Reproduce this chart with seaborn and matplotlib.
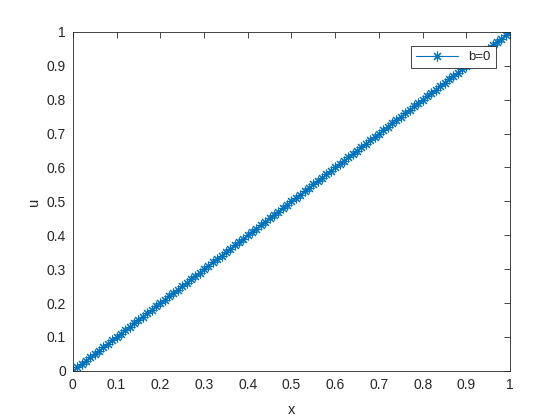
import matplotlib
matplotlib.use("Agg")
import matplotlib.pyplot as plt
import pandas as pd
import seaborn as sns

# данные
x_vals = [0.00, 0.01, 0.02, 0.03, 0.04, 0.05, 0.06, 0.07, 0.08, 0.09,
          0.10, 0.11, 0.12, 0.13, 0.14, 0.15, 0.16, 0.17, 0.18, 0.19,
          0.20, 0.21, 0.22, 0.23, 0.24, 0.25, 0.26, 0.27, 0.28, 0.29,
          0.30, 0.31, 0.32, 0.33, 0.34, 0.35, 0.36, 0.37, 0.38, 0.39,
          0.40, 0.41, 0.42, 0.43, 0.44, 0.45, 0.46, 0.47, 0.48, 0.49,
          0.50, 0.51, 0.52, 0.53, 0.54, 0.55, 0.56, 0.57, 0.58, 0.59,
          0.60, 0.61, 0.62, 0.63, 0.64, 0.65, 0.66, 0.67, 0.68, 0.69,
          0.70, 0.71, 0.72, 0.73, 0.74, 0.75, 0.76, 0.77, 0.78, 0.79,
          0.80, 0.81, 0.82, 0.83, 0.84, 0.85, 0.86, 0.87, 0.88, 0.89,
          0.90, 0.91, 0.92, 0.93, 0.94, 0.95, 0.96, 0.97, 0.98, 0.99,
          1.00]
u_vals = [0.000, 0.010, 0.020, 0.030, 0.040, 0.050, 0.060, 0.070, 0.080, 0.090,
          0.100, 0.110, 0.120, 0.130, 0.140, 0.150, 0.160, 0.170, 0.180, 0.190,
          0.200, 0.210, 0.220, 0.230, 0.240, 0.250, 0.260, 0.270, 0.280, 0.290,
          0.300, 0.310, 0.320, 0.330, 0.340, 0.350, 0.360, 0.370, 0.380, 0.390,
          0.400, 0.410, 0.420, 0.430, 0.440, 0.450, 0.460, 0.470, 0.480, 0.490,
          0.500, 0.510, 0.520, 0.530, 0.540, 0.550, 0.560, 0.570, 0.580, 0.590,
          0.600, 0.610, 0.620, 0.630, 0.640, 0.650, 0.660, 0.670, 0.680, 0.690,
          0.700, 0.710, 0.720, 0.730, 0.740, 0.750, 0.760, 0.770, 0.780, 0.790,
          0.800, 0.810, 0.820, 0.830, 0.840, 0.850, 0.860, 0.870, 0.880, 0.890,
          0.900, 0.910, 0.920, 0.930, 0.940, 0.950, 0.960, 0.970, 0.980, 0.990,
          1.000]
series_label = "b=0"
tick_vals = [0, 0.1, 0.2, 0.3, 0.4, 0.5, 0.6, 0.7, 0.8, 0.9, 1]
tick_labels = ["0", "0.1", "0.2", "0.3", "0.4", "0.5", "0.6", "0.7", "0.8", "0.9", "1"]

sns.set_style("white")
plt.rcParams['font.family'] = ['Liberation Sans', 'DejaVu Sans']

axis_color = "#262626"
line_color = "#0072BD"

df = pd.DataFrame({"x": x_vals, "u": u_vals})

fig = plt.figure(figsize=(5.6, 4.2), dpi=100)
ax = fig.add_axes([0.13, 0.117, 0.781, 0.807])

sns.lineplot(data=df, x="x", y="u", ax=ax, color=line_color, linewidth=0.8,
             marker=(8, 2, 0), markersize=7, markeredgewidth=0.8,
             markeredgecolor=line_color, label=series_label)

ax.set_xlim(0, 1)
ax.set_ylim(0, 1)
ax.set_xticks(tick_vals)
ax.set_xticklabels(tick_labels)
ax.set_yticks(tick_vals)
ax.set_yticklabels(tick_labels)
ax.set_xlabel("x", fontsize=10.5, color=axis_color, labelpad=8)
ax.set_ylabel("u", fontsize=10.5, color=axis_color, labelpad=4)

ax.tick_params(direction="in", length=4, width=0.6, colors=axis_color,
               labelsize=10, top=True, right=True, pad=5)
for s in ax.spines.values():
    s.set_color(axis_color)
    s.set_linewidth(0.6)
ax.grid(False)

leg = ax.legend(loc="upper right", fancybox=False, framealpha=1,
                edgecolor=axis_color, fontsize=9.5, borderaxespad=1.1,
                handlelength=3.2, borderpad=0.35)
leg.get_frame().set_linewidth(0.6)

fig.savefig("out.png", dpi=100)
